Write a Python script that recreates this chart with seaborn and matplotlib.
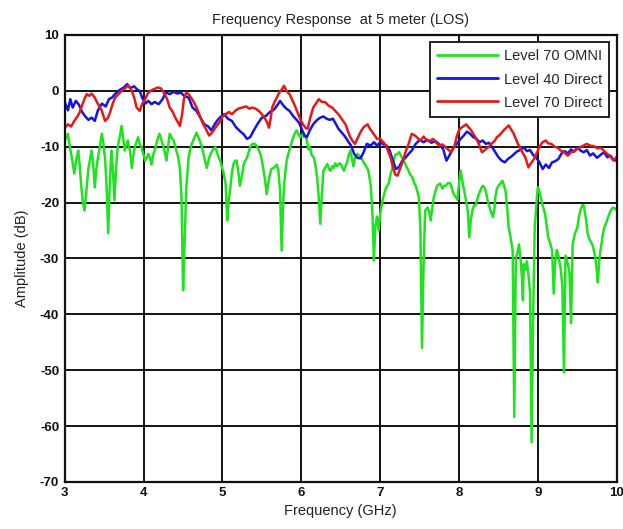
import numpy as np
import pandas as pd
import matplotlib
matplotlib.use("Agg")
import matplotlib.pyplot as plt
import seaborn as sns

# Level 40 Direct (blue)
blue_freq = [3.00, 3.04, 3.07, 3.10, 3.14, 3.18, 3.22, 3.26, 3.30, 3.34, 3.38, 3.42, 3.47, 3.52, 3.56,
             3.60, 3.65, 3.70, 3.75, 3.79, 3.83, 3.88, 3.92, 3.95, 3.98, 4.02, 4.06, 4.10, 4.14, 4.19,
             4.24, 4.28, 4.33, 4.38, 4.43, 4.47, 4.52, 4.57, 4.62, 4.67, 4.72, 4.77, 4.82, 4.86, 4.90,
             4.94, 4.98, 5.02, 5.07, 5.12, 5.17, 5.22, 5.27, 5.31, 5.35, 5.40, 5.45, 5.50, 5.55, 5.60,
             5.65, 5.70, 5.73, 5.77, 5.81, 5.85, 5.90, 5.94, 5.97, 6.01, 6.04, 6.07, 6.11, 6.15, 6.20,
             6.24, 6.28, 6.32, 6.36, 6.40, 6.44, 6.47, 6.52, 6.56, 6.60, 6.63, 6.67, 6.71, 6.75, 6.79,
             6.83, 6.88, 6.92, 6.96, 7.00, 7.04, 7.08, 7.12, 7.16, 7.20, 7.24, 7.28, 7.32, 7.36, 7.40,
             7.45, 7.50, 7.55, 7.60, 7.65, 7.70, 7.75, 7.80, 7.84, 7.88, 7.92, 7.97, 8.02, 8.06, 8.10,
             8.14, 8.18, 8.22, 8.26, 8.30, 8.34, 8.38, 8.42, 8.46, 8.50, 8.54, 8.58, 8.62, 8.66, 8.70,
             8.74, 8.78, 8.82, 8.86, 8.90, 8.94, 8.98, 9.02, 9.06, 9.10, 9.14, 9.18, 9.22, 9.26, 9.30,
             9.34, 9.38, 9.42, 9.46, 9.50, 9.54, 9.58, 9.62, 9.66, 9.70, 9.75, 9.80, 9.84, 9.88, 9.92,
             9.96, 10.00]
blue_db = [-2.0, -3.5, -1.5, -3.0, -1.8, -2.5, -3.8, -4.6, -5.2, -4.8, -5.4, -3.5, -2.3, -2.8, -1.5,
           -1.2, -0.4, 0.2, 0.6, 1.2, 0.5, 0.8, 0.2, 0.0, -1.2, -2.3, -1.8, -2.4, -2.0, -2.4,
           -1.5, -0.3, -0.6, -0.2, -0.5, -0.3, -1.0, -1.2, -3.0, -3.6, -4.8, -6.0, -6.4, -7.1, -6.0,
           -5.2, -4.6, -4.2, -5.0, -5.4, -6.5, -7.2, -7.8, -8.6, -8.3, -7.0, -5.8, -4.8, -4.5, -3.8,
           -3.4, -2.5, -1.8, -2.6, -3.2, -3.6, -4.6, -5.2, -5.7, -7.0, -8.0, -8.3, -7.0, -6.0, -5.2,
           -4.8, -4.6, -5.0, -5.2, -5.0, -6.0, -6.8, -7.6, -8.3, -9.2, -9.8, -11.3, -12.0, -12.1, -11.0,
           -9.5, -9.8, -9.2, -9.8, -9.2, -9.6, -9.8, -10.7, -12.5, -14.0, -13.6, -12.5, -12.0, -11.3, -10.7,
           -9.5, -8.8, -9.2, -8.8, -9.3, -9.0, -9.6, -10.5, -12.5, -11.5, -10.4, -9.5, -8.6, -8.0, -7.3,
           -7.7, -8.3, -8.6, -9.2, -8.9, -9.5, -9.3, -10.1, -11.0, -11.9, -12.5, -12.8, -12.2, -11.8, -11.3,
           -10.8, -10.6, -10.1, -10.8, -10.6, -11.5, -12.0, -12.8, -14.0, -13.2, -13.8, -12.8, -12.6, -12.2, -11.2,
           -10.8, -11.2, -10.5, -10.9, -10.1, -10.7, -11.0, -10.6, -11.6, -11.2, -12.0, -11.4, -11.0, -11.9, -11.6,
           -12.4, -12.5]

# Level 70 Direct (red)
red_freq = [3.00, 3.04, 3.08, 3.12, 3.16, 3.19, 3.22, 3.25, 3.28, 3.31, 3.34, 3.38, 3.41, 3.44, 3.47,
            3.51, 3.55, 3.58, 3.61, 3.64, 3.68, 3.72, 3.76, 3.80, 3.84, 3.88, 3.91, 3.95, 3.98, 4.02,
            4.05, 4.09, 4.13, 4.18, 4.22, 4.27, 4.30, 4.33, 4.37, 4.40, 4.43, 4.46, 4.49, 4.51, 4.54,
            4.57, 4.61, 4.65, 4.69, 4.72, 4.75, 4.78, 4.83, 4.86, 4.89, 4.93, 4.96, 5.00, 5.04, 5.08,
            5.12, 5.16, 5.20, 5.25, 5.30, 5.34, 5.38, 5.42, 5.46, 5.50, 5.54, 5.57, 5.59, 5.61, 5.63,
            5.66, 5.69, 5.72, 5.75, 5.78, 5.81, 5.85, 5.88, 5.91, 5.95, 5.99, 6.02, 6.05, 6.08, 6.11,
            6.15, 6.19, 6.22, 6.26, 6.30, 6.34, 6.39, 6.43, 6.47, 6.51, 6.56, 6.59, 6.62, 6.65, 6.68,
            6.71, 6.75, 6.79, 6.84, 6.87, 6.90, 6.93, 6.96, 7.00, 7.04, 7.07, 7.10, 7.13, 7.16, 7.19,
            7.22, 7.25, 7.29, 7.32, 7.36, 7.40, 7.44, 7.48, 7.51, 7.55, 7.59, 7.63, 7.67, 7.71, 7.75,
            7.79, 7.83, 7.87, 7.90, 7.94, 7.97, 8.00, 8.03, 8.06, 8.09, 8.12, 8.15, 8.18, 8.22, 8.25,
            8.29, 8.32, 8.35, 8.38, 8.41, 8.45, 8.48, 8.51, 8.54, 8.57, 8.60, 8.63, 8.66, 8.69, 8.72,
            8.75, 8.78, 8.81, 8.84, 8.88, 8.92, 8.95, 8.99, 9.02, 9.06, 9.10, 9.13, 9.17, 9.21, 9.25,
            9.29, 9.33, 9.38, 9.42, 9.46, 9.50, 9.54, 9.58, 9.62, 9.66, 9.71, 9.75, 9.80, 9.84, 9.88,
            9.92, 9.96, 10.00]
red_db = [-6.6, -6.0, -6.4, -5.4, -4.6, -3.8, -2.6, -1.4, -0.6, -0.9, -0.5, -1.2, -2.1, -2.8, -3.6,
          -5.4, -4.8, -3.6, -2.2, -1.2, -0.6, 0.0, 0.4, 0.9, 0.3, -1.2, -3.0, -3.6, -2.4, -1.5,
          -0.5, 0.0, 0.3, 0.6, 0.4, -0.6, -1.6, -3.0, -3.8, -4.8, -5.5, -6.3, -4.0, -1.5, -0.3,
          -0.6, -1.4, -2.4, -3.6, -4.8, -5.8, -6.6, -8.0, -7.6, -7.0, -6.2, -5.7, -4.6, -4.2, -3.8,
          -4.2, -3.6, -3.2, -3.0, -2.8, -3.2, -3.0, -3.2, -3.6, -4.2, -5.0, -5.8, -6.6, -5.0, -3.0,
          -2.0, -1.2, -0.3, 0.2, 0.9, 0.0, -0.6, -1.5, -2.4, -3.8, -5.2, -6.0, -6.6, -6.8, -5.0,
          -3.0, -2.2, -1.5, -2.0, -2.0, -2.6, -3.0, -3.6, -4.2, -5.0, -6.0, -7.2, -8.3, -9.0, -9.5,
          -8.6, -7.4, -6.5, -6.0, -6.8, -7.4, -8.0, -8.6, -8.6, -9.2, -9.8, -10.8, -11.9, -13.5, -15.0,
          -15.2, -14.0, -12.5, -11.0, -9.5, -7.7, -8.0, -8.5, -8.9, -8.2, -8.8, -9.0, -8.6, -9.3, -9.8,
          -9.6, -10.1, -10.6, -11.0, -10.0, -8.2, -7.0, -6.6, -6.3, -6.0, -6.5, -7.0, -7.7, -8.6, -9.5,
          -11.0, -10.7, -10.3, -10.0, -9.5, -9.0, -8.3, -8.0, -7.5, -7.0, -6.6, -6.2, -6.9, -7.6, -8.6,
          -9.6, -10.3, -11.2, -11.9, -13.7, -12.8, -12.2, -11.0, -10.0, -9.2, -8.9, -9.4, -9.5, -10.0, -10.2,
          -10.7, -11.0, -11.6, -11.0, -10.8, -10.4, -10.1, -9.8, -9.5, -9.8, -9.9, -10.3, -10.2, -10.8, -11.3,
          -11.8, -12.5, -11.8]

# Level 70 OMNI (green)
green_freq = [3.00, 3.04, 3.07, 3.09, 3.12, 3.15, 3.17, 3.19, 3.21, 3.23, 3.25, 3.28, 3.30, 3.34, 3.36,
              3.38, 3.40, 3.42, 3.45, 3.47, 3.49, 3.51, 3.53, 3.55, 3.57, 3.59, 3.61, 3.63, 3.65, 3.67,
              3.70, 3.72, 3.74, 3.76, 3.78, 3.80, 3.83, 3.85, 3.87, 3.89, 3.93, 3.95, 3.97, 4.00, 4.02,
              4.06, 4.08, 4.10, 4.12, 4.14, 4.17, 4.20, 4.23, 4.26, 4.29, 4.31, 4.33, 4.36, 4.38, 4.41,
              4.44, 4.46, 4.48, 4.50, 4.52, 4.54, 4.57, 4.59, 4.61, 4.64, 4.67, 4.70, 4.74, 4.77, 4.80,
              4.83, 4.87, 4.91, 4.94, 4.97, 5.01, 5.04, 5.06, 5.08, 5.10, 5.12, 5.14, 5.16, 5.18, 5.20,
              5.22, 5.25, 5.27, 5.29, 5.31, 5.35, 5.38, 5.41, 5.44, 5.48, 5.50, 5.52, 5.54, 5.56, 5.58,
              5.60, 5.62, 5.65, 5.67, 5.69, 5.71, 5.73, 5.75, 5.77, 5.78, 5.81, 5.83, 5.86, 5.88, 5.90,
              5.92, 5.94, 5.97, 5.99, 6.01, 6.03, 6.05, 6.07, 6.09, 6.11, 6.13, 6.16, 6.18, 6.20, 6.22,
              6.24, 6.26, 6.28, 6.30, 6.33, 6.35, 6.37, 6.39, 6.41, 6.43, 6.45, 6.48, 6.50, 6.52, 6.54,
              6.56, 6.58, 6.60, 6.62, 6.64, 6.66, 6.68, 6.71, 6.75, 6.79, 6.82, 6.85, 6.88, 6.90, 6.92,
              6.94, 6.96, 6.98, 7.00, 7.03, 7.05, 7.07, 7.09, 7.11, 7.13, 7.15, 7.17, 7.19, 7.22, 7.24,
              7.27, 7.30, 7.33, 7.36, 7.38, 7.41, 7.43, 7.45, 7.47, 7.49, 7.51, 7.53, 7.55, 7.57, 7.60,
              7.62, 7.64, 7.66, 7.68, 7.70, 7.72, 7.74, 7.76, 7.79, 7.81, 7.83, 7.86, 7.89, 7.91, 7.93,
              7.96, 7.98, 8.00, 8.02, 8.04, 8.06, 8.08, 8.11, 8.13, 8.15, 8.17, 8.19, 8.21, 8.23, 8.25,
              8.28, 8.30, 8.32, 8.34, 8.36, 8.38, 8.40, 8.43, 8.45, 8.46, 8.48, 8.50, 8.53, 8.55, 8.57,
              8.59, 8.61, 8.63, 8.65, 8.68, 8.70, 8.72, 8.74, 8.76, 8.78, 8.80, 8.81, 8.82, 8.84, 8.86,
              8.88, 8.90, 8.92, 8.94, 8.96, 8.97, 8.99, 9.00, 9.02, 9.05, 9.07, 9.09, 9.11, 9.13, 9.16,
              9.18, 9.20, 9.22, 9.24, 9.26, 9.29, 9.31, 9.33, 9.35, 9.38, 9.40, 9.42, 9.44, 9.47, 9.50,
              9.52, 9.54, 9.56, 9.58, 9.61, 9.63, 9.65, 9.67, 9.69, 9.71, 9.73, 9.75, 9.76, 9.78, 9.80,
              9.82, 9.84, 9.87, 9.89, 9.92, 9.95, 9.97, 10.00]
green_db = [-8.9, -7.7, -10.5, -12.0, -14.8, -12.0, -10.7, -13.5, -17.3, -20.0, -21.4, -17.0, -13.8, -10.7, -13.0,
            -17.3, -14.0, -12.0, -9.5, -7.7, -9.5, -12.0, -17.0, -25.5, -17.0, -10.7, -14.0, -19.6, -14.0, -10.1,
            -8.0, -6.3, -8.5, -10.7, -9.8, -8.9, -11.0, -13.8, -11.5, -10.0, -8.3, -9.5, -10.1, -11.5, -12.5,
            -11.3, -12.0, -13.2, -11.5, -10.7, -9.0, -7.7, -9.0, -10.5, -12.5, -10.0, -7.7, -8.5, -8.9, -10.5,
            -12.0, -14.0, -19.0, -35.7, -27.0, -17.5, -12.0, -10.5, -9.5, -8.5, -7.5, -8.5, -10.1, -12.0, -13.8,
            -12.0, -10.7, -10.1, -11.5, -12.5, -14.5, -16.6, -23.2, -19.5, -17.3, -14.5, -13.1, -12.5, -12.5, -14.5,
            -17.0, -15.0, -13.1, -12.5, -12.0, -10.1, -9.5, -9.5, -10.0, -11.3, -12.5, -14.3, -16.0, -18.5, -16.5,
            -15.0, -14.0, -13.8, -13.5, -13.2, -14.5, -18.0, -28.6, -20.0, -17.0, -12.8, -11.5, -10.1, -9.0, -8.3,
            -7.5, -7.1, -8.0, -8.3, -7.8, -8.3, -8.0, -8.9, -10.5, -10.1, -11.5, -12.0, -13.5, -15.5, -19.0,
            -23.8, -18.5, -14.3, -13.8, -13.1, -14.0, -14.3, -13.5, -13.8, -13.0, -13.5, -13.0, -13.1, -13.8, -14.3,
            -13.5, -12.8, -11.5, -10.7, -12.0, -13.5, -12.0, -11.3, -11.8, -12.8, -13.5, -14.3, -17.0, -21.4, -30.4,
            -24.0, -22.5, -25.0, -22.0, -19.6, -18.5, -17.5, -17.0, -16.5, -15.0, -14.0, -12.5, -11.5, -11.3, -11.0,
            -11.8, -12.5, -13.5, -14.3, -15.0, -15.5, -16.5, -17.0, -18.0, -19.0, -25.0, -46.0, -31.0, -21.5, -20.9,
            -21.5, -23.2, -21.0, -19.0, -18.0, -17.0, -16.8, -16.6, -17.5, -17.0, -17.0, -16.5, -16.6, -17.5, -18.5,
            -19.0, -19.5, -16.5, -14.3, -16.0, -17.5, -19.0, -21.4, -26.2, -23.0, -21.4, -20.5, -20.5, -19.5, -18.5,
            -17.5, -17.0, -17.3, -18.0, -19.5, -20.5, -21.5, -22.6, -21.0, -19.0, -17.5, -17.0, -16.5, -16.1, -17.0,
            -18.0, -21.0, -24.5, -26.0, -28.6, -58.4, -30.0, -29.0, -27.5, -30.0, -34.0, -37.5, -31.0, -32.0, -30.5,
            -33.0, -36.0, -62.9, -40.0, -24.0, -22.6, -18.5, -17.3, -18.0, -20.0, -21.0, -22.0, -24.0, -26.2, -27.5,
            -28.6, -36.3, -30.4, -28.5, -29.5, -32.0, -35.0, -50.4, -29.5, -31.0, -32.5, -41.6, -27.5, -25.5, -24.5,
            -22.5, -21.4, -20.5, -20.5, -23.0, -25.5, -26.5, -27.0, -27.5, -28.6, -30.0, -32.7, -34.3, -30.0, -28.0,
            -26.0, -24.5, -23.5, -22.6, -21.5, -20.9, -21.0, -21.4]

x_ticks = [3, 4, 5, 6, 7, 8, 9, 10]
y_ticks = [10, 0, -10, -20, -30, -40, -50, -60, -70]

series_names = ["Level 70 OMNI", "Level 40 Direct", "Level 70 Direct"]
series_colors = ["#1ee31e", "#1414e6", "#e81818"]

df = pd.concat([
    pd.DataFrame({"freq": green_freq, "amp": green_db, "series": series_names[0]}),
    pd.DataFrame({"freq": blue_freq, "amp": blue_db, "series": series_names[1]}),
    pd.DataFrame({"freq": red_freq, "amp": red_db, "series": series_names[2]}),
], ignore_index=True)

sns.set_style("white")
plt.rcParams["font.family"] = ["Liberation Sans", "DejaVu Sans"]

fig = plt.figure(figsize=(6.23, 5.29), dpi=100)
ax = fig.add_axes([0.104, 0.089, 0.886, 0.845])

sns.lineplot(data=df, x="freq", y="amp", hue="series", hue_order=series_names,
             palette=dict(zip(series_names, series_colors)), estimator=None, sort=False,
             linewidth=1.8, ax=ax)

ax.set_xlim(3, 10)
ax.set_ylim(-70, 10)
ax.set_xticks(x_ticks)
ax.set_yticks(y_ticks)
ax.set_xticklabels([str(t) for t in x_ticks], fontsize=9.5, fontweight="bold")
ax.set_yticklabels([str(t) for t in y_ticks], fontsize=9.5, fontweight="bold")
ax.tick_params(axis="both", length=0, pad=4, colors="#111111")
ax.grid(True, color="#111111", linewidth=1.4, linestyle="-")
ax.set_axisbelow(True)
for s in ax.spines.values():
    s.set_color("#111111")
    s.set_linewidth(1.6)

ax.set_title("Frequency Response  at 5 meter (LOS)", fontsize=10.5, color="#222222", pad=8)
ax.set_xlabel("Frequency (GHz)", fontsize=10.5, color="#222222", labelpad=3)
ax.set_ylabel("Amplitude (dB)", fontsize=10.5, color="#222222", labelpad=8)

leg = ax.legend(loc="upper right", fontsize=10.5, frameon=True, fancybox=False,
                edgecolor="#111111", framealpha=1.0, handlelength=4.2, borderpad=0.5,
                labelspacing=0.62, handletextpad=0.4, borderaxespad=0.5)
leg.get_frame().set_linewidth(1.3)
for line in leg.get_lines():
    line.set_linewidth(2.0)

fig.savefig("out.png", dpi=100)
